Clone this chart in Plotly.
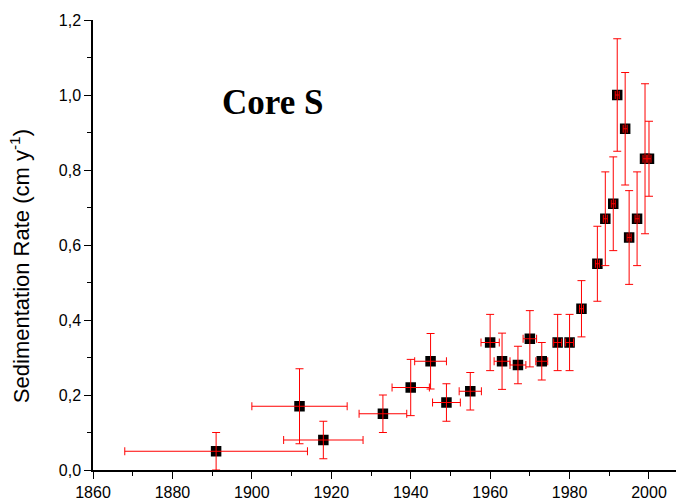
import plotly.graph_objects as go

years = [1891, 1912, 1918, 1933, 1940, 1945, 1949, 1955, 1960, 1963, 1967, 1970, 1973,
         1977, 1980, 1983, 1987, 1989, 1991, 1992, 1994, 1995, 1997, 1999, 2000]
rate = [0.05, 0.17, 0.08, 0.15, 0.22, 0.29, 0.18, 0.21, 0.34, 0.29, 0.28, 0.35, 0.29,
        0.34, 0.34, 0.43, 0.55, 0.67, 0.71, 1.00, 0.91, 0.62, 0.67, 0.83, 0.83]
year_err = [23, 12, 10, 6, 4.7, 4, 3.5, 2.8, 2.3, 2, 2, 1.7, 1.5,
            1, 1, 0.5, 0.5, 0.5, 0.5, 0.5, 0.5, 0.5, 0.5, 0.5, 0.5]
rate_err = [0.05, 0.10, 0.05, 0.05, 0.075, 0.074, 0.05, 0.05, 0.075, 0.075, 0.05, 0.075, 0.05,
            0.075, 0.075, 0.075, 0.10, 0.125, 0.125, 0.15, 0.15, 0.125, 0.125, 0.20, 0.10]

fig = go.Figure()
fig.add_trace(go.Scatter(
    x=years, y=rate, mode="markers",
    marker=dict(symbol="square", size=10.5, color="black"),
    showlegend=False, hoverinfo="skip"))
fig.add_trace(go.Scatter(
    x=years, y=rate, mode="markers",
    marker=dict(symbol="square", size=10.5, color="rgba(0,0,0,0)"),
    error_x=dict(type="data", array=year_err, visible=True, color="red", thickness=1, width=4),
    error_y=dict(type="data", array=rate_err, visible=True, color="red", thickness=1, width=4),
    showlegend=False))

fig.add_annotation(x=1905.3, y=0.98, text="<b>Core S</b>", showarrow=False,
                   font=dict(family="Liberation Serif", size=35, color="black"),
                   xanchor="center", yanchor="middle")

fig.add_annotation(xref="paper", yref="paper", x=0, y=0.453, xshift=-73,
                   text="Sedimentation Rate (cm y<sup>-1</sup>)", textangle=-90,
                   showarrow=False, xanchor="center", yanchor="middle",
                   font=dict(family="Liberation Sans", size=22, color="black"))

fig.update_layout(
    width=676, height=503,
    margin=dict(l=93, r=0, t=20, b=33),
    paper_bgcolor="white", plot_bgcolor="white",
    separators=", ",
    font=dict(family="Liberation Sans", size=16, color="black"),
)
fig.update_xaxes(
    range=[1860, 2006.8], tick0=1860, dtick=20,
    showline=True, linecolor="black", linewidth=1.5,
    ticks="outside", ticklen=7, tickwidth=1.3, tickcolor="black",
    minor=dict(dtick=10, ticks="outside", ticklen=4, tickwidth=1.3, tickcolor="black"),
    showgrid=False, zeroline=False,
)
fig.update_yaxes(
    range=[0, 1.2], tick0=0, dtick=0.2, tickformat=".1f",
    showline=True, linecolor="black", linewidth=1.5,
    ticks="outside", ticklen=7, tickwidth=1.3, tickcolor="black",
    minor=dict(dtick=0.1, ticks="outside", ticklen=4, tickwidth=1.3, tickcolor="black"),
    showgrid=False, zeroline=False,
)
fig.write_html("out.html")
